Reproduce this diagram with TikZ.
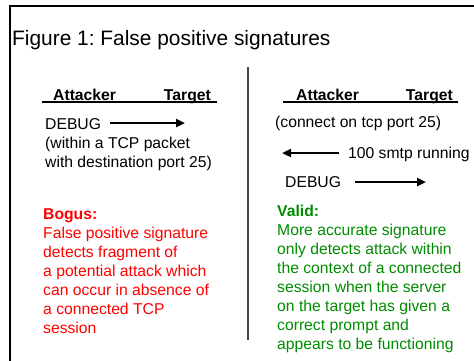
\documentclass[tikz,border=0pt]{standalone}
\usepackage{fontspec}
\setmainfont{Liberation Sans}
\usetikzlibrary{arrows.meta}
\definecolor{vert}{RGB}{0,140,0}
\definecolor{rouge}{RGB}{255,0,0}
\definecolor{trait}{RGB}{70,70,70}
\frenchspacing

\tikzset{txt/.style = {anchor = base west, inner sep = 0pt, align = left,
                       font = \fontsize{15.7}{19.1}\selectfont},
         tete/.style = {txt, font = \fontsize{15.7}{19.1}\selectfont\bfseries},
         fleche/.style = {line width = 2.5pt, -{Triangle[length=9pt,width=8pt]}},
         souligne/.style = {line width = 1.2pt}
        }

\begin{document}
\begin{tikzpicture}[x=1pt, y=-1pt]
\useasboundingbox (0,0) rectangle (474,360);
% cadre et separation
\draw[line width = 2.5pt] (10,361) -- (10,6) -- (475,6);
\draw[trait, line width = 1.2pt] (248,67) -- (248,340);
\node[txt, font = \fontsize{20.9}{24}\selectfont] (titre) at (12,45) {Figure 1: False positive signatures};

% gauche (base = derniere ligne)
\node[tete] (attG) at (53,100) {Attacker};
\node[tete, anchor = base east] (cibG) at (211,100) {Target};
\coordinate (soulG1) at (42,102);
\coordinate (soulG2) at (217,102);
\draw[souligne] (soulG1) -- (soulG2);
\node[txt] (debugG) at (45,129) {DEBUG};
\coordinate (flG1) at (110,123);
\coordinate (flG2) at (185,123);
\draw[fleche] (flG1) -- (flG2);
\node[txt] (paquet) at (45,167.1) {(within a TCP packet\\with destination port 25)};
\node[txt, rouge] (bogus) at (43,333.6) {\textbf{Bogus:}\\False positive signature\\detects fragment of\\a potential attack which\\can occur in absence of\\a connected TCP\\session};

% droite
\node[tete] (attD) at (296,100) {Attacker};
\node[tete, anchor = base east] (cibD) at (453,100) {Target};
\coordinate (soulD1) at (283,102);
\coordinate (soulD2) at (458,102);
\draw[souligne] (soulD1) -- (soulD2);
\node[txt] (connect) at (275,127) {(connect on tcp port 25)};
\node[txt] (smtp) at (348,158) {100 smtp running};
\coordinate (flR1) at (339,153);
\coordinate (flR2) at (282,153);
\draw[fleche] (flR1) -- (flR2);
\node[txt] (debugD) at (285,187) {DEBUG};
\coordinate (flD1) at (355,182);
\coordinate (flD2) at (426,182);
\draw[fleche] (flD1) -- (flD2);
\node[txt, vert] (valid) at (277,349.7) {\textbf{Valid:}\\More accurate signature\\only detects attack within\\the context of a connected\\session when the server\\on the target has given a\\correct prompt and\\appears to be functioning};
\end{tikzpicture}
\end{document}
